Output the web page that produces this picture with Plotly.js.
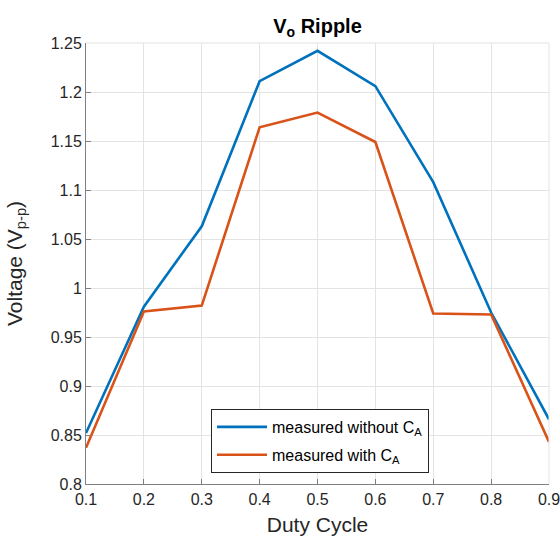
<!DOCTYPE html>
<html><head><meta charset="utf-8">
<script src="https://cdn.plot.ly/plotly-3.0.1.min.js"></script>
<style>body{margin:0;background:#fff}#chart{width:560px;height:542px}</style>
</head><body><div id="chart"></div>
<script>
const duty = [0.1, 0.2, 0.3, 0.4, 0.5, 0.6, 0.7, 0.8, 0.9];
const withoutCA = [0.852, 0.981, 1.063, 1.211, 1.242, 1.206, 1.108, 0.975, 0.866];
const withCA = [0.837, 0.976, 0.982, 1.164, 1.179, 1.149, 0.974, 0.973, 0.843];
const xTicks = [0.1, 0.2, 0.3, 0.4, 0.5, 0.6, 0.7, 0.8, 0.9];
const xTickText = ['0.1','0.2','0.3','0.4','0.5','0.6','0.7','0.8','0.9'];
const yTicks = [0.8, 0.85, 0.9, 0.95, 1, 1.05, 1.1, 1.15, 1.2, 1.25];
const yTickText = ['0.8','0.85','0.9','0.95','1','1.05','1.1','1.15','1.2','1.25'];

const font = 'Liberation Sans, Arial, Helvetica, sans-serif';
const traces = [
  {x: duty, y: withoutCA, type: 'scatter', mode: 'lines', name: 'measured without C<sub>A</sub>',
   legendgroup: 'a', line: {color: '#0072BD', width: 2.6}},
  {x: duty, y: withCA, type: 'scatter', mode: 'lines', name: 'measured with C<sub>A</sub>',
   legendgroup: 'b', line: {color: '#D95319', width: 2.6}}
];
const axisCommon = {
  showgrid: true, gridcolor: '#e3e3e3', gridwidth: 1,
  zeroline: false, showline: true, linecolor: '#808080', linewidth: 1,
  ticks: 'inside', ticklen: 5, tickcolor: '#808080', tickwidth: 1,
  ticklabeloverflow: 'allow',
  tickfont: {family: font, size: 16, color: '#262626'}
};
const layout = {
  width: 560, height: 542,
  margin: {l: 86, r: 11, t: 43, b: 58},
  paper_bgcolor: '#fff', plot_bgcolor: '#fff',
  showlegend: true,
  title: {text: '<b>V<sub>o</sub> Ripple</b>', font: {family: font, size: 20, color: '#000'},
          x: 0.5, xref: 'paper', xanchor: 'center', y: 0.965, yref: 'container'},
  xaxis: Object.assign({}, axisCommon, {
    range: [0.1, 0.9], tickvals: xTicks, ticktext: xTickText, ticklabelstandoff: 1,
    title: {text: 'Duty Cycle', font: {family: font, size: 21, color: '#262626'}, standoff: 10}
  }),
  yaxis: Object.assign({}, axisCommon, {
    range: [0.8, 1.25], tickvals: yTicks, ticktext: yTickText,
    title: {text: 'Voltage (V<sub>p-p</sub>)', font: {family: font, size: 21, color: '#262626'}, standoff: 22}
  }),
  shapes: [
    {type: 'line', xref: 'paper', yref: 'paper', x0: 1, x1: 1, y0: 0, y1: 1, line: {color: '#e3e3e3', width: 1}},
    {type: 'line', xref: 'paper', yref: 'paper', x0: 0, x1: 1, y0: 1, y1: 1, line: {color: '#e3e3e3', width: 1}}
  ],
  legend: {x: 0.27, y: 0.025, xanchor: 'left', yanchor: 'bottom',
    bgcolor: '#fff', bordercolor: '#262626', borderwidth: 1, itemwidth: 50,
    traceorder: 'grouped', tracegroupgap: 4,
    font: {family: font, size: 16, color: '#000'}}
};
Plotly.newPlot('chart', traces, layout, {displayModeBar: false, staticPlot: true});
</script></body></html>
